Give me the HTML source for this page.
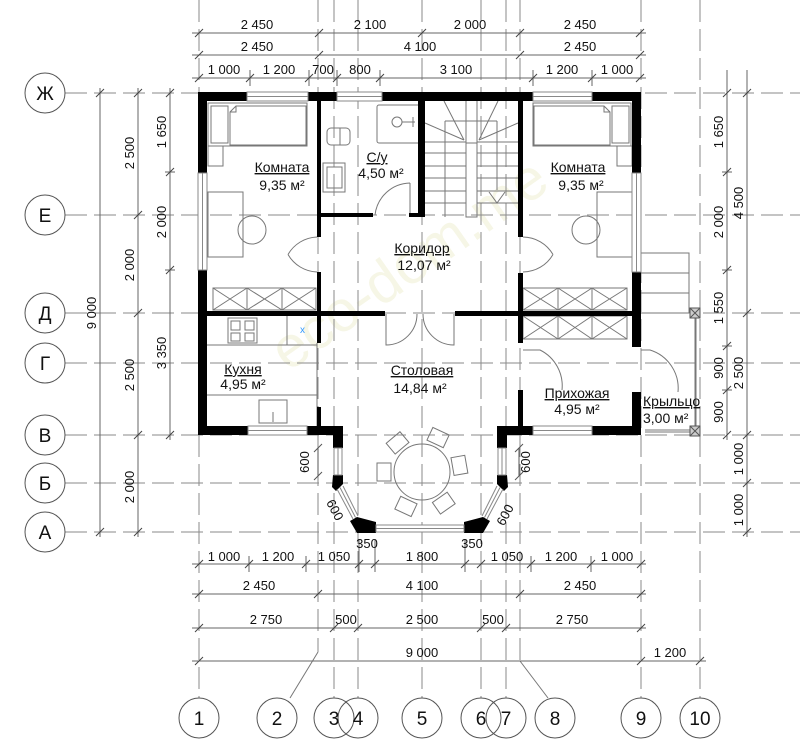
<!DOCTYPE html>
<html><head><meta charset="utf-8"><style>
html,body{margin:0;padding:0;background:#fff;}
svg{display:block;}
text{font-family:"Liberation Sans",sans-serif;fill:#111;}
</style></head><body>
<svg width="800" height="749" viewBox="0 0 800 749" xmlns="http://www.w3.org/2000/svg">
<!-- watermark -->
<text x="420" y="280" font-size="58" transform="rotate(-35 420 280)" text-anchor="middle" style="fill:#f6f6e6">eco-dom.me</text>

<!-- axis dashed lines -->
<g stroke="#8a8a8a" stroke-width="1" stroke-dasharray="22 7" fill="none">
<line x1="65" y1="93" x2="800" y2="93"/><line x1="65" y1="215" x2="800" y2="215"/>
<line x1="65" y1="313" x2="800" y2="313"/><line x1="65" y1="363" x2="800" y2="363"/>
<line x1="65" y1="435" x2="800" y2="435"/><line x1="65" y1="483" x2="800" y2="483"/>
<line x1="65" y1="532" x2="800" y2="532"/>
<line x1="199" y1="0" x2="199" y2="698"/><line x1="334" y1="0" x2="334" y2="698"/>
<line x1="358" y1="0" x2="358" y2="698"/><line x1="422" y1="0" x2="422" y2="698"/>
<line x1="481" y1="0" x2="481" y2="698"/><line x1="506" y1="0" x2="506" y2="698"/>
<line x1="641" y1="0" x2="641" y2="698"/><line x1="700" y1="0" x2="700" y2="698"/>
<line x1="318" y1="0" x2="318" y2="652"/><line x1="520" y1="0" x2="520" y2="661"/>
</g>
<g stroke="#777" stroke-width="1">
<line x1="318" y1="652" x2="290" y2="698"/><line x1="520" y1="661" x2="548" y2="698"/>
</g>

<!-- axis circles -->
<g fill="#fff" stroke="#555" stroke-width="1">
<circle cx="45" cy="93" r="20"/><circle cx="45" cy="215" r="20"/><circle cx="45" cy="313" r="20"/>
<circle cx="45" cy="363" r="20"/><circle cx="45" cy="435" r="20"/><circle cx="45" cy="483" r="20"/>
<circle cx="45" cy="532" r="20"/>
<circle cx="199" cy="718" r="20"/><circle cx="277" cy="718" r="20"/><circle cx="334" cy="718" r="20" fill="none"/>
<circle cx="358" cy="718" r="20" fill="none"/><circle cx="422" cy="718" r="20"/>
<circle cx="481" cy="718" r="20" fill="none"/><circle cx="506" cy="718" r="20" fill="none"/>
<circle cx="555" cy="718" r="20"/><circle cx="641" cy="718" r="20"/><circle cx="700" cy="718" r="20"/>
</g>
<g font-size="19" text-anchor="middle">
<text x="45" y="100">Ж</text><text x="45" y="222">Е</text><text x="45" y="320">Д</text>
<text x="45" y="370">Г</text><text x="45" y="442">В</text><text x="45" y="490">Б</text><text x="45" y="539">А</text>
<text x="199" y="725">1</text><text x="277" y="725">2</text><text x="334" y="725">3</text><text x="358" y="725">4</text>
<text x="422" y="725">5</text><text x="481" y="725">6</text><text x="506" y="725">7</text><text x="555" y="725">8</text>
<text x="641" y="725">9</text><text x="700" y="725">10</text>
</g>

<!-- dimension lines -->
<g stroke="#666" stroke-width="1" fill="none">
<line x1="192" y1="33" x2="646" y2="33"/><line x1="192" y1="55" x2="646" y2="55"/><line x1="192" y1="78" x2="646" y2="78"/>
<line x1="192" y1="564" x2="646" y2="564"/><line x1="192" y1="594" x2="646" y2="594"/>
<line x1="192" y1="628" x2="646" y2="628"/><line x1="192" y1="661" x2="706" y2="661"/>
<line x1="100" y1="88" x2="100" y2="537"/><line x1="138" y1="88" x2="138" y2="537"/><line x1="170" y1="88" x2="170" y2="440"/>
<line x1="727" y1="70" x2="727" y2="440"/><line x1="747" y1="70" x2="747" y2="537"/>
<line x1="250" y1="70" x2="250" y2="86"/><line x1="309" y1="70" x2="309" y2="86"/><line x1="337" y1="70" x2="337" y2="86"/>
<line x1="380" y1="70" x2="380" y2="86"/><line x1="533" y1="70" x2="533" y2="86"/><line x1="592" y1="70" x2="592" y2="86"/>
<line x1="249" y1="556" x2="249" y2="572"/><line x1="306" y1="556" x2="306" y2="572"/><line x1="375" y1="540" x2="375" y2="572"/>
<line x1="465" y1="540" x2="465" y2="572"/><line x1="531" y1="556" x2="531" y2="572"/><line x1="591" y1="556" x2="591" y2="572"/>
<line x1="359" y1="540" x2="359" y2="572"/>
<line x1="165" y1="172" x2="175" y2="172"/><line x1="165" y1="270" x2="175" y2="270"/>
<line x1="722" y1="172" x2="732" y2="172"/><line x1="722" y1="270" x2="732" y2="270"/><line x1="722" y1="346" x2="732" y2="346"/><line x1="722" y1="390" x2="732" y2="390"/>
</g>
<g stroke="#444" stroke-width="1">
<path d="M195,37L203,29M315,37L323,29M418,37L426,29M516,37L524,29M636,37L644,29"/>
<path d="M195,59L203,51M315,59L323,51M516,59L524,51M636,59L644,51"/>
<path d="M195,82L203,74M246,82L254,74M305,82L313,74M333,82L341,74M376,82L384,74M529,82L537,74M588,82L596,74M636,82L644,74"/>
<path d="M195,568L203,560M245,568L253,560M302,568L310,560M355,568L363,560M371,568L379,560M461,568L469,560M477,568L485,560M527,568L535,560M587,568L595,560M637,568L645,560"/>
<path d="M195,598L203,590M314,598L322,590M516,598L524,590M637,598L645,590"/>
<path d="M195,632L203,624M330,632L338,624M354,632L362,624M477,632L485,624M502,632L510,624M637,632L645,624"/>
<path d="M195,665L203,657M637,665L645,657M696,665L704,657"/>
<path d="M96,97L104,89M96,536L104,528"/>
<path d="M134,97L142,89M134,219L142,211M134,317L142,309M134,439L142,431M134,536L142,528"/>
<path d="M166,97L174,89M166,176L174,168M166,274L174,266M166,439L174,431"/>
<path d="M723,97L731,89M723,176L731,168M723,274L731,266M723,350L731,342M723,394L731,386M723,439L731,431"/>
<path d="M743,97L751,89M743,317L751,309M743,439L751,431M743,487L751,479M743,536L751,528"/>
</g>
<g font-size="13" text-anchor="middle">
<text x="257" y="29">2 450</text><text x="370" y="29">2 100</text><text x="470" y="29">2 000</text><text x="580" y="29">2 450</text>
<text x="257" y="51">2 450</text><text x="420" y="51">4 100</text><text x="580" y="51">2 450</text>
<text x="224" y="74">1 000</text><text x="279" y="74">1 200</text><text x="323" y="74">700</text><text x="360" y="74">800</text>
<text x="456" y="74">3 100</text><text x="562" y="74">1 200</text><text x="617" y="74">1 000</text>
<text x="224" y="561">1 000</text><text x="278" y="561">1 200</text><text x="334" y="561">1 050</text><text x="367" y="548">350</text>
<text x="422" y="561">1 800</text><text x="472" y="548">350</text><text x="507" y="561">1 050</text><text x="561" y="561">1 200</text><text x="617" y="561">1 000</text>
<text x="259" y="590">2 450</text><text x="422" y="590">4 100</text><text x="580" y="590">2 450</text>
<text x="266" y="624">2 750</text><text x="346" y="624">500</text><text x="422" y="624">2 500</text><text x="493" y="624">500</text><text x="572" y="624">2 750</text>
<text x="422" y="657">9 000</text><text x="670" y="657">1 200</text>
<text transform="translate(96,313) rotate(-90)">9 000</text>
<text transform="translate(134,153) rotate(-90)">2 500</text><text transform="translate(134,265) rotate(-90)">2 000</text>
<text transform="translate(134,375) rotate(-90)">2 500</text><text transform="translate(134,487) rotate(-90)">2 000</text>
<text transform="translate(166,132) rotate(-90)">1 650</text><text transform="translate(166,222) rotate(-90)">2 000</text><text transform="translate(166,353) rotate(-90)">3 350</text>
<text transform="translate(723,132) rotate(-90)">1 650</text><text transform="translate(723,222) rotate(-90)">2 000</text>
<text transform="translate(723,308) rotate(-90)">1 550</text><text transform="translate(723,368) rotate(-90)">900</text><text transform="translate(723,412) rotate(-90)">900</text>
<text transform="translate(743,203) rotate(-90)">4 500</text><text transform="translate(743,373) rotate(-90)">2 500</text>
<text transform="translate(743,459) rotate(-90)">1 000</text><text transform="translate(743,510) rotate(-90)">1 000</text>
<text transform="translate(309,462) rotate(-90)">600</text><text transform="translate(530,462) rotate(-90)">600</text>
<text transform="translate(331,512) rotate(62)">600</text><text transform="translate(509,517) rotate(-62)">600</text>
</g>
<g stroke="#555" stroke-width="1">
<line x1="318" y1="448" x2="318" y2="476"/><line x1="314" y1="452" x2="322" y2="444"/><line x1="314" y1="480" x2="322" y2="472"/>
<line x1="519" y1="448" x2="519" y2="476"/><line x1="515" y1="452" x2="523" y2="444"/><line x1="515" y1="480" x2="523" y2="472"/>
</g>

<!-- furniture -->
<g stroke="#777" stroke-width="1" fill="none">
<rect x="208" y="103" width="99" height="43"/><rect x="211" y="106" width="17" height="37"/>
<path d="M236,106L306,106L306,145L230,145L230,112Z"/><path d="M230,112L236,112L236,106"/>
<rect x="208" y="146" width="15" height="20"/>
<rect x="533" y="103" width="98" height="43"/><rect x="612" y="106" width="17" height="37"/>
<path d="M534,106L604,106L610,112L610,145L534,145Z"/><path d="M604,106L604,112L610,112"/>
<rect x="617" y="146" width="15" height="20"/>
<rect x="208" y="192" width="35" height="65"/><circle cx="252" cy="230" r="14"/>
<rect x="597" y="192" width="35" height="65"/><circle cx="586" cy="230" r="14"/>
<rect x="213" y="288" width="103" height="22"/>
<path d="M247,288V310M282,288V310M213,288L247,310M247,288L213,310M247,288L282,310M282,288L247,310M282,288L316,310M316,288L282,310"/>
<rect x="523" y="288" width="104" height="22"/>
<path d="M558,288V310M592,288V310M523,288L558,310M558,288L523,310M558,288L592,310M592,288L558,310M592,288L627,310M627,288L592,310"/>
<rect x="523" y="316" width="104" height="23"/>
<path d="M558,316V339M592,316V339M523,316L558,339M558,316L523,339M558,316L592,339M592,316L558,339M592,316L627,339M627,316L592,339"/>
<rect x="377" y="105" width="43" height="38" rx="2"/><circle cx="397" cy="122" r="5"/><path d="M402,122H415M413,117V127"/>
<rect x="327" y="128" width="23" height="17" rx="4"/><path d="M340,128V145"/>
<rect x="323" y="163" width="22" height="29"/><rect x="327" y="167" width="15" height="21"/>
<path d="M425,142H466M477,142H518M425,153H466M477,153H518M425,166H466M477,166H518M425,178H466M477,178H518M425,191H466M477,191H518M425,203H466M477,203H518"/>
<path d="M445,121H497M445,121V217M497,121V190M466,101V143M477,101V143"/>
<path d="M464,140L444,101M464,140L425,123M479,140L498,101M479,140L518,123"/>
<rect x="466" y="143" width="11" height="74"/>
<path d="M489,192L497,203L505,192"/>
<path d="M207,345H317M287,316V345M207,395H317M317,343V426"/>
<rect x="228" y="318" width="29" height="25"/>
<path d="M231,321h9v9h-9zM245,321h9v9h-9zM231,333h9v8h-9zM245,333h9v8h-9z"/>
<rect x="259" y="400" width="28" height="23"/><path d="M273,412V422"/>
<path d="M317,237A35,35 0 0 0 288,254.5M288,254.5A35,35 0 0 0 317,272"/>
<path d="M523,237A35,35 0 0 1 553,254.5M553,254.5A35,35 0 0 1 523,272"/>
<path d="M410,215V183M410,183A36,36 0 0 0 375,215"/>
<path d="M386,314V345A31,31 0 0 0 417,314M454,314V345A31,31 0 0 1 423,314"/>
<path d="M523,350H540A40,40 0 0 1 562,390"/>
<path d="M641,350H650A40,40 0 0 1 678,392"/>
<path d="M641,253H689V313M641,273H689M641,293H689M641,313H689"/>
<path d="M695,318V428M696,318V428M645,430H690M645,432H690"/>
<circle cx="422" cy="472" r="28"/>
<g transform="translate(422,472)">
<rect x="31" y="-9" width="14" height="18" transform="rotate(-130)"/>
<rect x="31" y="-9" width="14" height="18" transform="rotate(-65)"/>
<rect x="31" y="-9" width="14" height="18" transform="rotate(-10)"/>
<rect x="31" y="-9" width="14" height="18" transform="rotate(55)"/>
<rect x="31" y="-9" width="14" height="18" transform="rotate(115)"/>
<rect x="31" y="-9" width="14" height="18" transform="rotate(180)"/>
</g>
</g>
<rect x="690" y="308" width="10" height="10" fill="#ccc" stroke="#555"/><path d="M690,308l10,10M700,308l-10,10" stroke="#555"/>
<rect x="690" y="426" width="10" height="10" fill="#ccc" stroke="#555"/><path d="M690,426l10,10M700,426l-10,10" stroke="#555"/>
<text x="300" y="333" font-size="10" style="fill:#39f">x</text>

<!-- walls -->
<g fill="#000">
<rect x="198" y="92" width="49" height="9"/><rect x="308" y="92" width="29" height="9"/>
<rect x="382" y="92" width="151" height="9"/><rect x="592" y="92" width="49" height="9"/>
<rect x="198" y="426" width="50" height="9"/><rect x="307" y="426" width="36" height="9"/>
<rect x="497" y="426" width="36" height="9"/><rect x="592" y="426" width="49" height="9"/>
<rect x="198" y="92" width="9" height="81"/><rect x="198" y="270" width="9" height="165"/>
<rect x="632" y="92" width="9" height="81"/><rect x="632" y="272" width="9" height="75"/><rect x="632" y="392" width="9" height="43"/>
<rect x="317" y="101" width="4" height="136"/><rect x="317" y="272" width="4" height="71"/><rect x="317" y="407" width="4" height="20"/>
<rect x="418" y="101" width="7" height="116"/>
<rect x="321" y="213" width="52" height="4"/><rect x="409" y="213" width="16" height="4"/>
<rect x="518" y="101" width="5" height="136"/><rect x="518" y="273" width="5" height="70"/><rect x="518" y="390" width="5" height="37"/>
<rect x="207" y="311" width="178" height="5"/><rect x="455" y="311" width="177" height="5"/>
</g>
<g fill="#000">
<rect x="333" y="430" width="10" height="18"/><rect x="497" y="430" width="10" height="18"/>
<polygon points="333,475 343,475 343,484 336,491 332,487"/>
<polygon points="507,475 497,475 497,484 504,491 508,487"/>
<polygon points="350,521 357,517 376,522 376,533 357,533"/>
<polygon points="490,521 483,517 464,522 464,533 483,533"/>
</g>
<g fill="#fff" stroke="#888" stroke-width="1">
<rect x="247" y="92" width="61" height="9"/><rect x="337" y="92" width="45" height="9"/><rect x="533" y="92" width="59" height="9"/>
<rect x="248" y="426" width="59" height="9"/><rect x="533" y="426" width="59" height="9"/>
<rect x="198" y="173" width="9" height="97"/><rect x="632" y="173" width="9" height="99"/>
<rect x="334" y="448" width="8" height="27"/><rect x="498" y="448" width="8" height="27"/>
<rect x="376" y="525" width="88" height="7"/>
</g>
<g stroke="#888" stroke-width="1" fill="none">
<path d="M247,96.5H308M337,96.5H382M533,96.5H592M248,430.5H307M533,430.5H592M202.5,173V270M636.5,173V272M338,448V475M502,448V475M376,528.5H464"/>
<path d="M337,489L353,519M343,486L358,516M340,487.5L355.5,517.5"/>
<path d="M503,489L487,519M497,486L482,516M500,487.5L484.5,517.5"/>
</g>

<!-- room labels -->
<g font-size="14" text-anchor="middle">
<text x="282" y="172" text-decoration="underline">Комната</text><text x="282" y="190">9,35 м²</text>
<text x="578" y="172" text-decoration="underline">Комната</text><text x="581" y="190">9,35 м²</text>
<text x="377" y="162" text-decoration="underline">С/у</text><text x="381" y="178">4,50 м²</text>
<text x="422" y="253" text-decoration="underline">Коридор</text><text x="424" y="270">12,07 м²</text>
<text x="243" y="374" text-decoration="underline">Кухня</text><text x="243" y="389">4,95 м²</text>
<text x="422" y="375" text-decoration="underline">Столовая</text><text x="420" y="393">14,84 м²</text>
<text x="577" y="398" text-decoration="underline">Прихожая</text><text x="577" y="414">4,95 м²</text>
<text x="643" y="406" text-anchor="start" text-decoration="underline">Крыльцо</text><text x="643" y="423" text-anchor="start">3,00 м²</text>
</g>
</svg>
</body></html>
